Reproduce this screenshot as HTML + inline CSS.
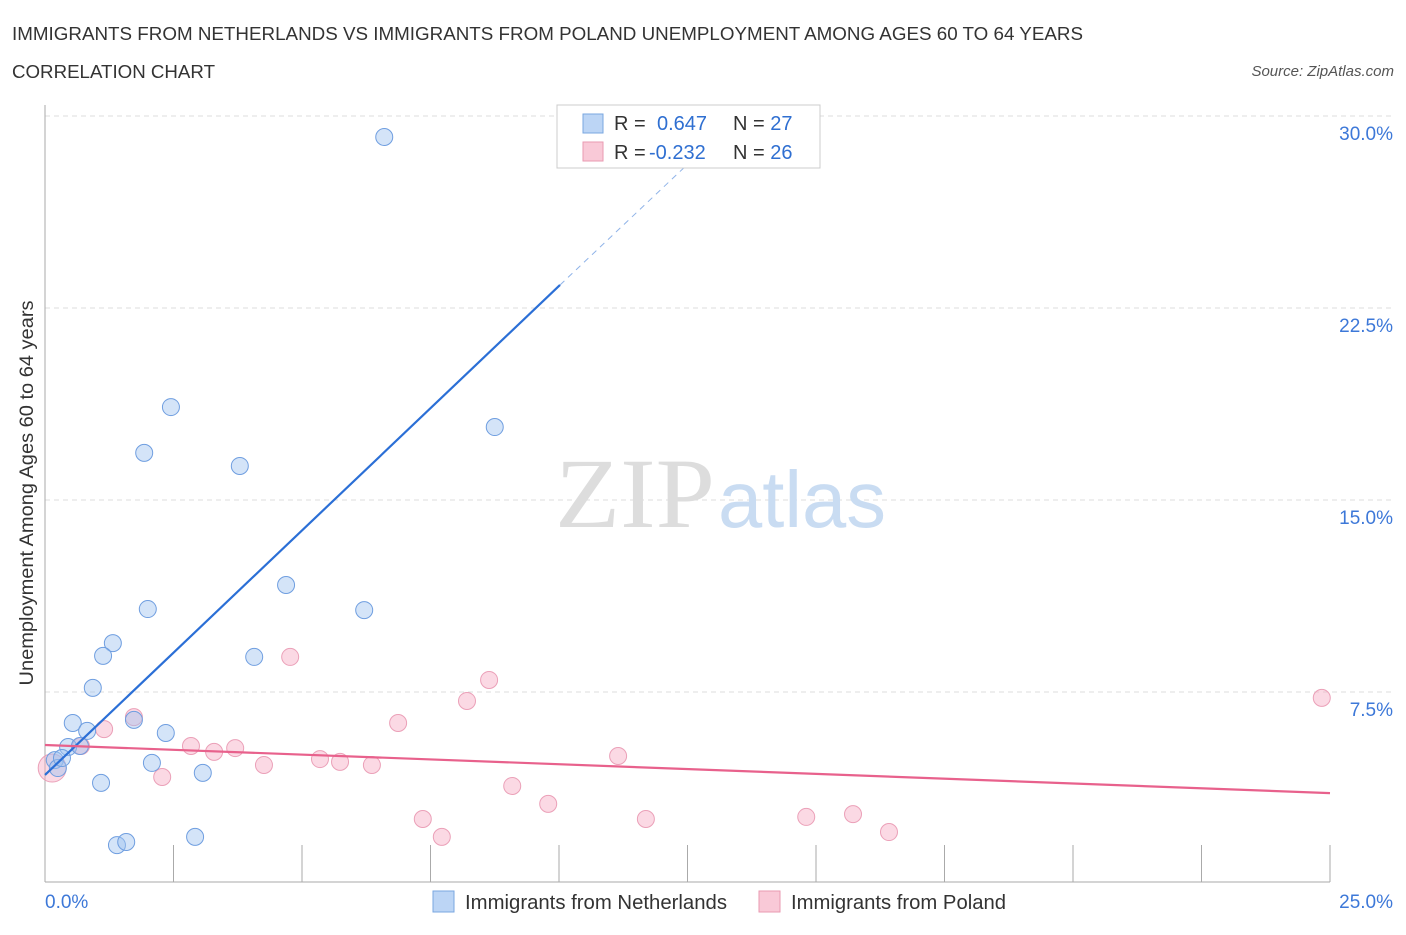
<!DOCTYPE html>
<html><head><meta charset="utf-8"><style>
body{margin:0;background:#fff;font-family:"Liberation Sans",sans-serif;}
svg text{font-family:"Liberation Sans",sans-serif;}
</style></head><body>
<svg id="c" width="1406" height="930">
<text x="12" y="40" font-size="18" fill="#333" textLength="1071" lengthAdjust="spacingAndGlyphs">IMMIGRANTS FROM NETHERLANDS VS IMMIGRANTS FROM POLAND UNEMPLOYMENT AMONG AGES 60 TO 64 YEARS</text>
<text x="12" y="78" font-size="18" fill="#333" textLength="203" lengthAdjust="spacingAndGlyphs">CORRELATION CHART</text>
<text x="1394" y="76" font-size="15" fill="#555" font-style="italic" text-anchor="end">Source: ZipAtlas.com</text>
<text x="33" y="493" font-size="19" fill="#333" text-anchor="middle" textLength="385" lengthAdjust="spacingAndGlyphs" transform="rotate(-90 33 493)">Unemployment Among Ages 60 to 64 years</text>
<g id="grid"></g>
<text x="555" y="527" font-size="100" fill="#ddd" textLength="160" lengthAdjust="spacingAndGlyphs" style="font-family:'Liberation Serif',serif">ZIP</text>
<text x="718" y="527" font-size="80" fill="#c9dcf2" textLength="168" lengthAdjust="spacingAndGlyphs">atlas</text>
<g id="pts"></g>
<g id="lines"></g>
<g>
<rect x="557" y="105" width="263" height="63" fill="#fff" stroke="#ccc"/>
<rect x="583" y="114" width="20" height="19" fill="#bcd5f5" stroke="#7aa7e0"/>
<rect x="583" y="142" width="20" height="19" fill="#f9c9d7" stroke="#e99ab2"/>
<text x="614" y="130" font-size="20" fill="#333">R = <tspan fill="#2f6fd1" x="657">0.647</tspan><tspan x="733" fill="#333">N = </tspan><tspan fill="#2f6fd1">27</tspan></text>
<text x="614" y="159" font-size="20" fill="#333">R = <tspan fill="#2f6fd1" x="649">-0.232</tspan><tspan x="733" fill="#333">N = </tspan><tspan fill="#2f6fd1">26</tspan></text>
</g>
<g>
<rect x="433" y="891" width="21" height="21" fill="#bcd5f5" stroke="#7aa7e0"/>
<text x="465" y="909" font-size="20" fill="#333" textLength="262" lengthAdjust="spacingAndGlyphs">Immigrants from Netherlands</text>
<rect x="759" y="891" width="21" height="21" fill="#f9c9d7" stroke="#e99ab2"/>
<text x="791" y="909" font-size="20" fill="#333" textLength="215" lengthAdjust="spacingAndGlyphs">Immigrants from Poland</text>
</g>
</svg>
<script>
const yTicks=[7.5,15,22.5,30];
const yTickLabels=["7.5%","15.0%","22.5%","30.0%"];
const xTickLabels=["0.0%","25.0%"];
const nlX=[6.60,2.45,1.93,3.79,8.75,4.69,2.00,6.21,1.32,1.13,4.07,0.93,0.54,0.82,1.73,2.35,0.45,0.68,2.08,0.19,0.25,3.07,1.09,1.40,1.58,2.92,0.33];
const nlY=[29.18,18.63,16.84,16.33,17.85,11.68,10.74,10.70,9.41,8.91,8.87,7.66,6.29,5.98,6.41,5.90,5.35,5.39,4.73,4.84,4.53,4.34,3.95,1.52,1.64,1.84,4.92];
const plX=[24.84,8.64,4.77,8.21,6.87,1.15,1.73,2.84,3.29,3.70,0.70,5.35,5.74,6.36,4.26,2.28,11.15,9.09,9.79,7.35,7.72,11.69,14.81,15.72,16.42,0.14];
const plY=[7.27,7.97,8.87,7.15,6.29,6.05,6.52,5.39,5.16,5.31,5.39,4.88,4.77,4.65,4.65,4.18,5.00,3.83,3.13,2.54,1.84,2.54,2.62,2.73,2.03,4.53];
const nlLine=[0,4.26,10.02,23.4,12.6,28.3];
const plLine=[0,5.43,25,3.55];
const NS="http://www.w3.org/2000/svg";
const X=v=>45+v/25*1285, Y=v=>884-v/7.5*192;
function mk(t,a,p){const e=document.createElementNS(NS,t);for(const k in a)e.setAttribute(k,a[k]);p.appendChild(e);return e;}
const g=document.getElementById('grid');
yTicks.forEach((t,i)=>{
 const l=mk('line',{x1:45,x2:1394,y1:Y(t),y2:Y(t),stroke:'#ddd','stroke-dasharray':'5,4'},g);
 
 
 const tx=mk('text',{x:1393,y:Y(t)+24,'font-size':19,fill:'#3d78d8','text-anchor':'end'},g);
 tx.textContent=yTickLabels[i];
 
 
});
const ax=mk('line',{x1:45,x2:45,y1:105,y2:882,stroke:'#aaa'},g);


const bx=mk('line',{x1:45,x2:1330,y1:882,y2:882,stroke:'#aaa'},g);


for(let i=1;i<=10;i++){const t=mk('line',{x1:X(i*2.5),x2:X(i*2.5),y1:845,y2:882,stroke:'#aaa'},g);
 
 }
[[0,'start',45],[25,'end',1393]].forEach((d,i)=>{const t=mk('text',{x:d[2],y:908,'font-size':19,fill:'#3d78d8','text-anchor':d[1]},g);t.textContent=xTickLabels[i];
 
 });
const p=document.getElementById('pts');
plX.forEach((v,i)=>{const c=mk('circle',{cx:X(v),cy:Y(plY[i]),r:i==25?14:8.5,fill:'rgba(246,170,195,0.45)',stroke:'#eba0b8','stroke-width':1},p);
 
 });
nlX.forEach((v,i)=>{const c=mk('circle',{cx:X(v),cy:Y(nlY[i]),r:8.5,fill:'rgba(160,195,240,0.45)',stroke:'#6f9ee0','stroke-width':1},p);
 
 });
const L=document.getElementById('lines');
const a=mk('line',{x1:X(nlLine[0]),y1:Y(nlLine[1]),x2:X(nlLine[2]),y2:Y(nlLine[3]),stroke:'#2b6fd6','stroke-width':2.2},L);


const b=mk('line',{x1:X(nlLine[2]),y1:Y(nlLine[3]),x2:X(nlLine[4]),y2:Y(nlLine[5]),stroke:'#8fb3e8','stroke-width':1,'stroke-dasharray':'6,5'},L);


const c=mk('line',{x1:X(plLine[0]),y1:Y(plLine[1]),x2:X(plLine[2]),y2:Y(plLine[3]),stroke:'#e8618c','stroke-width':2.2},L);


</script>
</body></html>
